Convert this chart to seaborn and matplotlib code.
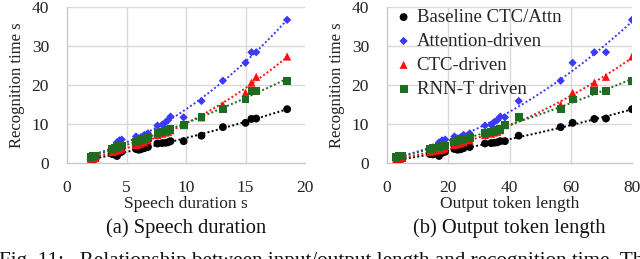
import numpy as np
import pandas as pd
import matplotlib
matplotlib.use("Agg")
import matplotlib.pyplot as plt
import seaborn as sns

# ---- data ----
duration = [2.0, 2.2, 2.4, 3.8, 4.0, 4.2, 4.4, 4.6, 5.8, 6.0, 6.2, 6.5, 6.8,
            7.6, 8.0, 8.3, 8.5, 8.7, 9.8, 11.3, 13.1, 15.0, 15.5, 15.9, 18.5]
tokens = [3, 4, 5, 14, 15, 17, 18, 19, 22, 23, 24, 25, 27,
          32, 34, 35, 36, 37, 38.5, 43, 56.7, 60.6, 67.7, 71.5, 80]
baseline = [0.9, 1.0, 1.1, 2.3, 2.2, 1.8, 2.6, 2.9, 3.6, 3.4, 3.5, 3.8, 4.1,
            5.0, 5.1, 5.2, 5.3, 5.6, 5.6, 7.0, 9.2, 10.3, 11.3, 11.4, 13.8]
attention = [1.4, 1.6, 1.7, 3.8, 4.0, 5.3, 5.8, 6.0, 6.8, 6.3, 6.6, 7.2, 7.6,
             9.6, 9.8, 10.5, 11.0, 11.9, 11.7, 15.9, 21.1, 25.7, 28.4, 28.4, 36.7]
ctc = [1.1, 1.2, 1.3, 2.8, 3.0, 3.2, 3.4, 3.7, 4.6, 4.8, 5.0, 5.3, 5.8,
       7.2, 7.5, 7.8, 8.0, 8.4, 9.7, 11.7, 14.9, 18.0, 20.6, 22.1, 27.3]
rnnt = [1.6, 1.7, 1.8, 3.6, 3.8, 4.0, 4.3, 4.5, 5.4, 5.6, 5.8, 6.1, 6.5,
        7.6, 7.9, 8.2, 8.4, 8.8, 9.7, 11.7, 13.8, 16.3, 18.5, 18.5, 21.0]

series_names = ["Baseline CTC/Attn", "Attention-driven", "CTC-driven", "RNN-T driven"]
series_values = [baseline, attention, ctc, rnnt]
colors = ["#000000", "#3a3aff", "#ff1010", "#1f6b1f"]
markers = ["o", "D", "^", "s"]
msizes = [32, 18, 34, 32]

xlabels = ["Speech duration s", "Output token length"]
subcaps = ["(a) Speech duration", "(b) Output token length"]
ylabel = "Recognition time s"
caption = "Fig. 11:   Relationship between input/output length and recognition time. The"

rows = []
for name, vals in zip(series_names, series_values):
    for d, t, v in zip(duration, tokens, vals):
        rows.append({"method": name, "duration": d, "tokens": t, "time": v})
df = pd.DataFrame(rows)

sns.set_theme(style="white")
plt.rcParams["font.family"] = ["Liberation Serif", "DejaVu Serif"]

fig = plt.figure(figsize=(6.4, 2.59), dpi=100)
axA = fig.add_axes([67/640, 1-163/259, (305-67)/640, (163-7)/259])
axB = fig.add_axes([387/640, 1-163/259, (632-387)/640, (163-7)/259])

grid_c = "#d9d9d9"
specs = [(axA, "duration", [0, 5, 10, 15, 20], (0, 20)),
         (axB, "tokens", [0, 20, 40, 60, 80], (0, 80))]

for i, (ax, xcol, xt, xl) in enumerate(specs):
    for xv in xt[1:-1]:
        ax.axvline(xv, color=grid_c, lw=1.0, zorder=0)
    for yv in [10, 20, 30, 40]:
        ax.axhline(yv, color=grid_c, lw=1.0, zorder=0)
    for name, c, m, s in zip(series_names, colors, markers, msizes):
        sub = df[df.method == name]
        sns.regplot(data=sub, x=xcol, y="time", order=2, ci=None, scatter=False,
                    ax=ax, truncate=True,
                    line_kws={"color": c, "ls": (0, (1, 1.2)), "lw": 1.4, "zorder": 2})
    for name, c, m, s in zip(series_names, colors, markers, msizes):
        sub = df[df.method == name]
        sns.scatterplot(data=sub, x=xcol, y="time", color=c, marker=m, s=s,
                        edgecolor="none", ax=ax, label=name, zorder=3)
    ax.set_xlim(*xl)
    ax.set_ylim(0, 40)
    ax.set_xticks(xt)
    ax.set_yticks([0, 10, 20, 30, 40])
    ax.tick_params(axis="both", length=0, labelsize=12.5, colors="#222222")
    ax.tick_params(axis="y", pad=13)
    ax.tick_params(axis="x", pad=12)
    for sp in ["top", "right"]:
        ax.spines[sp].set_visible(False)
    for sp in ["left", "bottom"]:
        ax.spines[sp].set_color("#c8c8c8")
        ax.spines[sp].set_linewidth(1.0)
    ax.set_xlabel(xlabels[i], fontsize=12.5, labelpad=0, color="#222222")
    ax.set_ylabel(ylabel, fontsize=12, labelpad=5, color="#222222")
    ax.get_legend().remove()
    ax.text(0.5, -0.355, subcaps[i], transform=ax.transAxes, ha="center", va="top",
            fontsize=14.8, color="#111111")

handles, labels = axB.get_legend_handles_labels()
axB.legend(handles, labels, loc="upper left", bbox_to_anchor=(-0.005, 1.06),
           frameon=False, fontsize=13.5, handlelength=0.7, handletextpad=0.35,
           labelspacing=0.36, borderpad=0.1, markerscale=1.0)

fig.text(-0.002, 1-252/259, caption, ha="left", va="top", fontsize=15.2, color="#111111")

fig.savefig("out.png", dpi=100)
